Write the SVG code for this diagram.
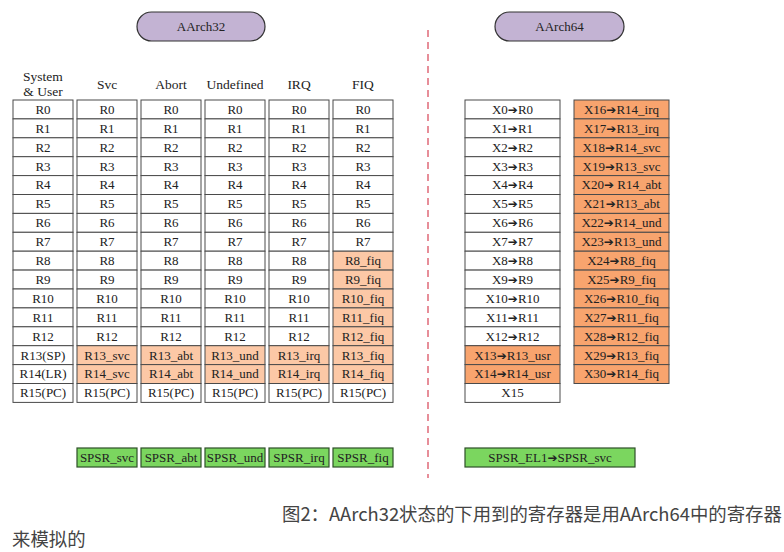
<svg xmlns="http://www.w3.org/2000/svg" width="784" height="552" viewBox="0 0 784 552">
<style>
.w{fill:#ffffff;stroke:#4a4a4a;stroke-width:1}
.p{fill:#fcc8a6;stroke:#4a4a4a;stroke-width:1}
.o{fill:#f8a46e;stroke:#4a4a4a;stroke-width:1}
.g{fill:#7bd65f;stroke:#2e4f28;stroke-width:1.2}
.pill{fill:#c3b3d3;stroke:#333;stroke-width:1.2}
text{font-family:"Liberation Serif","DejaVu Serif",serif;font-size:13px;fill:#222;text-anchor:middle}
.h{font-size:13.5px}
.cap{font-family:"Noto Sans CJK SC","Noto Sans",sans-serif;font-size:18.4px;fill:#444;text-anchor:start}
.a{font-family:"DejaVu Sans",sans-serif;font-weight:bold;font-size:12px}
</style>
<rect x="0" y="0" width="784" height="552" fill="#ffffff"/>

<g id="aarch32-title">
<rect class="pill" x="137" y="12" width="128" height="29" rx="14.5"/>
<text x="201" y="30.5">AArch32</text>
</g>
<g id="aarch64-title">
<rect class="pill" x="495" y="12" width="129" height="29" rx="14.5"/>
<text x="559.5" y="30.5">AArch64</text>
</g>

<g id="divider">
<line x1="428" y1="30" x2="428" y2="478" stroke="#e06a78" stroke-width="1.5" stroke-dasharray="7,5"/>
</g>

<g id="headers">
<text class="h" x="43" y="81">System</text>
<text class="h" x="43" y="96">&amp; User</text>
<text class="h" x="107" y="89">Svc</text>
<text class="h" x="171" y="89">Abort</text>
<text class="h" x="235" y="89">Undefined</text>
<text class="h" x="299" y="89">IRQ</text>
<text class="h" x="363" y="89">FIQ</text>
</g>

<g id="col-user" transform="translate(13,100)">
<rect class="w" x="0" y="0" width="60" height="18.9"/><text x="30" y="13.8">R0</text>
<rect class="w" x="0" y="18.9" width="60" height="18.9"/><text x="30" y="32.7">R1</text>
<rect class="w" x="0" y="37.8" width="60" height="18.9"/><text x="30" y="51.6">R2</text>
<rect class="w" x="0" y="56.7" width="60" height="18.9"/><text x="30" y="70.5">R3</text>
<rect class="w" x="0" y="75.6" width="60" height="18.9"/><text x="30" y="89.4">R4</text>
<rect class="w" x="0" y="94.5" width="60" height="18.9"/><text x="30" y="108.3">R5</text>
<rect class="w" x="0" y="113.4" width="60" height="18.9"/><text x="30" y="127.2">R6</text>
<rect class="w" x="0" y="132.3" width="60" height="18.9"/><text x="30" y="146.1">R7</text>
<rect class="w" x="0" y="151.2" width="60" height="18.9"/><text x="30" y="165">R8</text>
<rect class="w" x="0" y="170.1" width="60" height="18.9"/><text x="30" y="183.9">R9</text>
<rect class="w" x="0" y="189" width="60" height="18.9"/><text x="30" y="202.8">R10</text>
<rect class="w" x="0" y="207.9" width="60" height="18.9"/><text x="30" y="221.7">R11</text>
<rect class="w" x="0" y="226.8" width="60" height="18.9"/><text x="30" y="240.6">R12</text>
<rect class="w" x="0" y="245.7" width="60" height="18.9"/><text x="30" y="259.5">R13(SP)</text>
<rect class="w" x="0" y="264.6" width="60" height="18.9"/><text x="30" y="278.4">R14(LR)</text>
<rect class="w" x="0" y="283.5" width="60" height="18.9"/><text x="30" y="297.3">R15(PC)</text>
</g>

<g id="col-svc" transform="translate(77,100)">
<rect class="w" x="0" y="0" width="60" height="18.9"/><text x="30" y="13.8">R0</text>
<rect class="w" x="0" y="18.9" width="60" height="18.9"/><text x="30" y="32.7">R1</text>
<rect class="w" x="0" y="37.8" width="60" height="18.9"/><text x="30" y="51.6">R2</text>
<rect class="w" x="0" y="56.7" width="60" height="18.9"/><text x="30" y="70.5">R3</text>
<rect class="w" x="0" y="75.6" width="60" height="18.9"/><text x="30" y="89.4">R4</text>
<rect class="w" x="0" y="94.5" width="60" height="18.9"/><text x="30" y="108.3">R5</text>
<rect class="w" x="0" y="113.4" width="60" height="18.9"/><text x="30" y="127.2">R6</text>
<rect class="w" x="0" y="132.3" width="60" height="18.9"/><text x="30" y="146.1">R7</text>
<rect class="w" x="0" y="151.2" width="60" height="18.9"/><text x="30" y="165">R8</text>
<rect class="w" x="0" y="170.1" width="60" height="18.9"/><text x="30" y="183.9">R9</text>
<rect class="w" x="0" y="189" width="60" height="18.9"/><text x="30" y="202.8">R10</text>
<rect class="w" x="0" y="207.9" width="60" height="18.9"/><text x="30" y="221.7">R11</text>
<rect class="w" x="0" y="226.8" width="60" height="18.9"/><text x="30" y="240.6">R12</text>
<rect class="p" x="0" y="245.7" width="60" height="18.9"/><text x="30" y="259.5">R13_svc</text>
<rect class="p" x="0" y="264.6" width="60" height="18.9"/><text x="30" y="278.4">R14_svc</text>
<rect class="w" x="0" y="283.5" width="60" height="18.9"/><text x="30" y="297.3">R15(PC)</text>
</g>

<g id="col-abort" transform="translate(141,100)">
<rect class="w" x="0" y="0" width="60" height="18.9"/><text x="30" y="13.8">R0</text>
<rect class="w" x="0" y="18.9" width="60" height="18.9"/><text x="30" y="32.7">R1</text>
<rect class="w" x="0" y="37.8" width="60" height="18.9"/><text x="30" y="51.6">R2</text>
<rect class="w" x="0" y="56.7" width="60" height="18.9"/><text x="30" y="70.5">R3</text>
<rect class="w" x="0" y="75.6" width="60" height="18.9"/><text x="30" y="89.4">R4</text>
<rect class="w" x="0" y="94.5" width="60" height="18.9"/><text x="30" y="108.3">R5</text>
<rect class="w" x="0" y="113.4" width="60" height="18.9"/><text x="30" y="127.2">R6</text>
<rect class="w" x="0" y="132.3" width="60" height="18.9"/><text x="30" y="146.1">R7</text>
<rect class="w" x="0" y="151.2" width="60" height="18.9"/><text x="30" y="165">R8</text>
<rect class="w" x="0" y="170.1" width="60" height="18.9"/><text x="30" y="183.9">R9</text>
<rect class="w" x="0" y="189" width="60" height="18.9"/><text x="30" y="202.8">R10</text>
<rect class="w" x="0" y="207.9" width="60" height="18.9"/><text x="30" y="221.7">R11</text>
<rect class="w" x="0" y="226.8" width="60" height="18.9"/><text x="30" y="240.6">R12</text>
<rect class="p" x="0" y="245.7" width="60" height="18.9"/><text x="30" y="259.5">R13_abt</text>
<rect class="p" x="0" y="264.6" width="60" height="18.9"/><text x="30" y="278.4">R14_abt</text>
<rect class="w" x="0" y="283.5" width="60" height="18.9"/><text x="30" y="297.3">R15(PC)</text>
</g>

<g id="col-undefined" transform="translate(205,100)">
<rect class="w" x="0" y="0" width="60" height="18.9"/><text x="30" y="13.8">R0</text>
<rect class="w" x="0" y="18.9" width="60" height="18.9"/><text x="30" y="32.7">R1</text>
<rect class="w" x="0" y="37.8" width="60" height="18.9"/><text x="30" y="51.6">R2</text>
<rect class="w" x="0" y="56.7" width="60" height="18.9"/><text x="30" y="70.5">R3</text>
<rect class="w" x="0" y="75.6" width="60" height="18.9"/><text x="30" y="89.4">R4</text>
<rect class="w" x="0" y="94.5" width="60" height="18.9"/><text x="30" y="108.3">R5</text>
<rect class="w" x="0" y="113.4" width="60" height="18.9"/><text x="30" y="127.2">R6</text>
<rect class="w" x="0" y="132.3" width="60" height="18.9"/><text x="30" y="146.1">R7</text>
<rect class="w" x="0" y="151.2" width="60" height="18.9"/><text x="30" y="165">R8</text>
<rect class="w" x="0" y="170.1" width="60" height="18.9"/><text x="30" y="183.9">R9</text>
<rect class="w" x="0" y="189" width="60" height="18.9"/><text x="30" y="202.8">R10</text>
<rect class="w" x="0" y="207.9" width="60" height="18.9"/><text x="30" y="221.7">R11</text>
<rect class="w" x="0" y="226.8" width="60" height="18.9"/><text x="30" y="240.6">R12</text>
<rect class="p" x="0" y="245.7" width="60" height="18.9"/><text x="30" y="259.5">R13_und</text>
<rect class="p" x="0" y="264.6" width="60" height="18.9"/><text x="30" y="278.4">R14_und</text>
<rect class="w" x="0" y="283.5" width="60" height="18.9"/><text x="30" y="297.3">R15(PC)</text>
</g>

<g id="col-irq" transform="translate(269,100)">
<rect class="w" x="0" y="0" width="60" height="18.9"/><text x="30" y="13.8">R0</text>
<rect class="w" x="0" y="18.9" width="60" height="18.9"/><text x="30" y="32.7">R1</text>
<rect class="w" x="0" y="37.8" width="60" height="18.9"/><text x="30" y="51.6">R2</text>
<rect class="w" x="0" y="56.7" width="60" height="18.9"/><text x="30" y="70.5">R3</text>
<rect class="w" x="0" y="75.6" width="60" height="18.9"/><text x="30" y="89.4">R4</text>
<rect class="w" x="0" y="94.5" width="60" height="18.9"/><text x="30" y="108.3">R5</text>
<rect class="w" x="0" y="113.4" width="60" height="18.9"/><text x="30" y="127.2">R6</text>
<rect class="w" x="0" y="132.3" width="60" height="18.9"/><text x="30" y="146.1">R7</text>
<rect class="w" x="0" y="151.2" width="60" height="18.9"/><text x="30" y="165">R8</text>
<rect class="w" x="0" y="170.1" width="60" height="18.9"/><text x="30" y="183.9">R9</text>
<rect class="w" x="0" y="189" width="60" height="18.9"/><text x="30" y="202.8">R10</text>
<rect class="w" x="0" y="207.9" width="60" height="18.9"/><text x="30" y="221.7">R11</text>
<rect class="w" x="0" y="226.8" width="60" height="18.9"/><text x="30" y="240.6">R12</text>
<rect class="p" x="0" y="245.7" width="60" height="18.9"/><text x="30" y="259.5">R13_irq</text>
<rect class="p" x="0" y="264.6" width="60" height="18.9"/><text x="30" y="278.4">R14_irq</text>
<rect class="w" x="0" y="283.5" width="60" height="18.9"/><text x="30" y="297.3">R15(PC)</text>
</g>

<g id="col-fiq" transform="translate(333,100)">
<rect class="w" x="0" y="0" width="60" height="18.9"/><text x="30" y="13.8">R0</text>
<rect class="w" x="0" y="18.9" width="60" height="18.9"/><text x="30" y="32.7">R1</text>
<rect class="w" x="0" y="37.8" width="60" height="18.9"/><text x="30" y="51.6">R2</text>
<rect class="w" x="0" y="56.7" width="60" height="18.9"/><text x="30" y="70.5">R3</text>
<rect class="w" x="0" y="75.6" width="60" height="18.9"/><text x="30" y="89.4">R4</text>
<rect class="w" x="0" y="94.5" width="60" height="18.9"/><text x="30" y="108.3">R5</text>
<rect class="w" x="0" y="113.4" width="60" height="18.9"/><text x="30" y="127.2">R6</text>
<rect class="w" x="0" y="132.3" width="60" height="18.9"/><text x="30" y="146.1">R7</text>
<rect class="p" x="0" y="151.2" width="60" height="18.9"/><text x="30" y="165">R8_fiq</text>
<rect class="p" x="0" y="170.1" width="60" height="18.9"/><text x="30" y="183.9">R9_fiq</text>
<rect class="p" x="0" y="189" width="60" height="18.9"/><text x="30" y="202.8">R10_fiq</text>
<rect class="p" x="0" y="207.9" width="60" height="18.9"/><text x="30" y="221.7">R11_fiq</text>
<rect class="p" x="0" y="226.8" width="60" height="18.9"/><text x="30" y="240.6">R12_fiq</text>
<rect class="p" x="0" y="245.7" width="60" height="18.9"/><text x="30" y="259.5">R13_fiq</text>
<rect class="p" x="0" y="264.6" width="60" height="18.9"/><text x="30" y="278.4">R14_fiq</text>
<rect class="w" x="0" y="283.5" width="60" height="18.9"/><text x="30" y="297.3">R15(PC)</text>
</g>

<g id="col-x0-x15" transform="translate(465,100)">
<rect class="w" x="0" y="0" width="95" height="18.9"/><text x="47.5" y="13.8">X0<tspan class="a">➔</tspan>R0</text>
<rect class="w" x="0" y="18.9" width="95" height="18.9"/><text x="47.5" y="32.7">X1<tspan class="a">➔</tspan>R1</text>
<rect class="w" x="0" y="37.8" width="95" height="18.9"/><text x="47.5" y="51.6">X2<tspan class="a">➔</tspan>R2</text>
<rect class="w" x="0" y="56.7" width="95" height="18.9"/><text x="47.5" y="70.5">X3<tspan class="a">➔</tspan>R3</text>
<rect class="w" x="0" y="75.6" width="95" height="18.9"/><text x="47.5" y="89.4">X4<tspan class="a">➔</tspan>R4</text>
<rect class="w" x="0" y="94.5" width="95" height="18.9"/><text x="47.5" y="108.3">X5<tspan class="a">➔</tspan>R5</text>
<rect class="w" x="0" y="113.4" width="95" height="18.9"/><text x="47.5" y="127.2">X6<tspan class="a">➔</tspan>R6</text>
<rect class="w" x="0" y="132.3" width="95" height="18.9"/><text x="47.5" y="146.1">X7<tspan class="a">➔</tspan>R7</text>
<rect class="w" x="0" y="151.2" width="95" height="18.9"/><text x="47.5" y="165">X8<tspan class="a">➔</tspan>R8</text>
<rect class="w" x="0" y="170.1" width="95" height="18.9"/><text x="47.5" y="183.9">X9<tspan class="a">➔</tspan>R9</text>
<rect class="w" x="0" y="189" width="95" height="18.9"/><text x="47.5" y="202.8">X10<tspan class="a">➔</tspan>R10</text>
<rect class="w" x="0" y="207.9" width="95" height="18.9"/><text x="47.5" y="221.7">X11<tspan class="a">➔</tspan>R11</text>
<rect class="w" x="0" y="226.8" width="95" height="18.9"/><text x="47.5" y="240.6">X12<tspan class="a">➔</tspan>R12</text>
<rect class="o" x="0" y="245.7" width="95" height="18.9"/><text x="47.5" y="259.5">X13<tspan class="a">➔</tspan>R13_usr</text>
<rect class="o" x="0" y="264.6" width="95" height="18.9"/><text x="47.5" y="278.4">X14<tspan class="a">➔</tspan>R14_usr</text>
<rect class="w" x="0" y="283.5" width="95" height="18.9"/><text x="47.5" y="297.3">X15</text>
</g>

<g id="col-x16-x30" transform="translate(574,100)">
<rect class="o" x="0" y="0" width="95" height="18.9"/><text x="47.5" y="13.8">X16<tspan class="a">➔</tspan>R14_irq</text>
<rect class="o" x="0" y="18.9" width="95" height="18.9"/><text x="47.5" y="32.7">X17<tspan class="a">➔</tspan>R13_irq</text>
<rect class="o" x="0" y="37.8" width="95" height="18.9"/><text x="47.5" y="51.6">X18<tspan class="a">➔</tspan>R14_svc</text>
<rect class="o" x="0" y="56.7" width="95" height="18.9"/><text x="47.5" y="70.5">X19<tspan class="a">➔</tspan>R13_svc</text>
<rect class="o" x="0" y="75.6" width="95" height="18.9"/><text x="47.5" y="89.4">X20<tspan class="a">➔</tspan> R14_abt</text>
<rect class="o" x="0" y="94.5" width="95" height="18.9"/><text x="47.5" y="108.3">X21<tspan class="a">➔</tspan>R13_abt</text>
<rect class="o" x="0" y="113.4" width="95" height="18.9"/><text x="47.5" y="127.2">X22<tspan class="a">➔</tspan>R14_und</text>
<rect class="o" x="0" y="132.3" width="95" height="18.9"/><text x="47.5" y="146.1">X23<tspan class="a">➔</tspan>R13_und</text>
<rect class="o" x="0" y="151.2" width="95" height="18.9"/><text x="47.5" y="165">X24<tspan class="a">➔</tspan>R8_fiq</text>
<rect class="o" x="0" y="170.1" width="95" height="18.9"/><text x="47.5" y="183.9">X25<tspan class="a">➔</tspan>R9_fiq</text>
<rect class="o" x="0" y="189" width="95" height="18.9"/><text x="47.5" y="202.8">X26<tspan class="a">➔</tspan>R10_fiq</text>
<rect class="o" x="0" y="207.9" width="95" height="18.9"/><text x="47.5" y="221.7">X27<tspan class="a">➔</tspan>R11_fiq</text>
<rect class="o" x="0" y="226.8" width="95" height="18.9"/><text x="47.5" y="240.6">X28<tspan class="a">➔</tspan>R12_fiq</text>
<rect class="o" x="0" y="245.7" width="95" height="18.9"/><text x="47.5" y="259.5">X29<tspan class="a">➔</tspan>R13_fiq</text>
<rect class="o" x="0" y="264.6" width="95" height="18.9"/><text x="47.5" y="278.4">X30<tspan class="a">➔</tspan>R14_fiq</text>
</g>

<g id="spsr-svc"><rect class="g" x="77" y="448" width="60" height="19"/><text x="107" y="461.8">SPSR_svc</text></g>
<g id="spsr-abt"><rect class="g" x="141" y="448" width="60" height="19"/><text x="171" y="461.8">SPSR_abt</text></g>
<g id="spsr-und"><rect class="g" x="205" y="448" width="60" height="19"/><text x="235" y="461.8">SPSR_und</text></g>
<g id="spsr-irq"><rect class="g" x="269" y="448" width="60" height="19"/><text x="299" y="461.8">SPSR_irq</text></g>
<g id="spsr-fiq"><rect class="g" x="333" y="448" width="60" height="19"/><text x="363" y="461.8">SPSR_fiq</text></g>
<g id="spsr-el1"><rect class="g" x="465" y="448" width="170" height="19"/><text x="550" y="461.8">SPSR_EL1<tspan class="a">➔</tspan>SPSR_svc</text></g>

<g id="caption">
<text class="cap" x="282" y="521">图2：AArch32状态的下用到的寄存器是用AArch64中的寄存器</text>
<text class="cap" x="12" y="546">来模拟的</text>
</g>
</svg>
